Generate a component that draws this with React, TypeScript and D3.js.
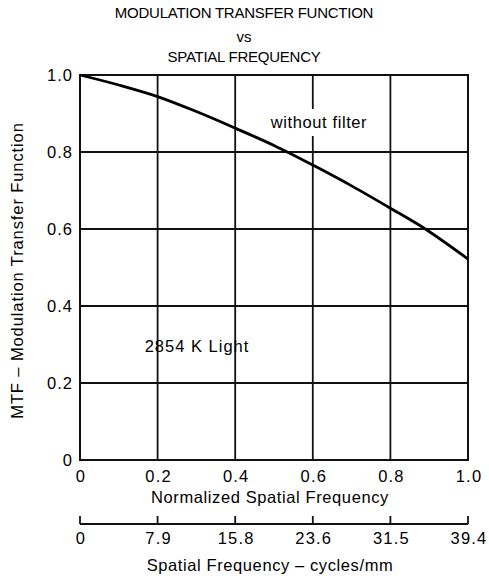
import React from 'react';
import * as d3 from 'd3';

const normTicks = [0, 0.2, 0.4, 0.6, 0.8, 1.0];
const normLabels = ['0', '0.2', '0.4', '0.6', '0.8', '1.0'];
const cycleLabels = ['0', '7.9', '15.8', '23.6', '31.5', '39.4'];
const mtfTicks = [0, 0.2, 0.4, 0.6, 0.8, 1.0];
const mtfLabels = ['0', '0.2', '0.4', '0.6', '0.8', '1.0'];

// curve: normalized frequency vs MTF
const freq = [0, 0.1, 0.2, 0.3, 0.4, 0.5, 0.6, 0.7, 0.8, 0.89, 1.0];
const mtf = [1.0, 0.974, 0.944, 0.905, 0.862, 0.817, 0.766, 0.712, 0.654, 0.6, 0.522];

const FONT = '"Liberation Sans", Arial, Helvetica, sans-serif';

export default function App() {
  const left = 80;
  const right = 468;
  const top = 75;
  const bottom = 460;
  const x = d3.scaleLinear().domain([0, 1]).range([left, right]);
  const y = d3.scaleLinear().domain([0, 1]).range([bottom, top]);

  const line = d3
    .line<number>()
    .x((_, i) => x(freq[i]))
    .y((d) => y(d))
    .curve(d3.curveCatmullRom);

  const axis2Y = 524;
  const titleX = 244;
  const labelX = 270;

  return (
    <svg
      width={489}
      height={579}
      style={{ position: 'absolute', left: 0, top: 0, background: '#fff' }}
      fontFamily={FONT}
    >
      <text x={titleX} y={18} textAnchor="middle" fontSize={15} letterSpacing={-0.25}>
        MODULATION TRANSFER FUNCTION
      </text>
      <text x={titleX} y={42} textAnchor="middle" fontSize={15}>
        vs
      </text>
      <text x={titleX} y={62} textAnchor="middle" fontSize={15} letterSpacing={-0.25}>
        SPATIAL FREQUENCY
      </text>

      {/* grid */}
      {mtfTicks.slice(1, -1).map((t) => (
        <line key={'h' + t} x1={left} x2={right} y1={y(t)} y2={y(t)} stroke="#111" strokeWidth={1.8} />
      ))}
      {normTicks.slice(1, -1).map((t) => (
        <line key={'v' + t} x1={x(t)} x2={x(t)} y1={top} y2={bottom} stroke="#111" strokeWidth={1.8} />
      ))}
      <rect x={left} y={top} width={right - left} height={bottom - top} fill="none" stroke="#111" strokeWidth={2} />

      {/* curve */}
      <path d={line(mtf) ?? ''} fill="none" stroke="#000" strokeWidth={2.8} />

      {/* annotations */}
      <rect x={264} y={109} width={112} height={27} fill="#fff" />
      <text x={319} y={128} textAnchor="middle" fontSize={16.5} letterSpacing={0.6}>
        without filter
      </text>
      <text x={197} y={352} textAnchor="middle" fontSize={16.5} letterSpacing={1}>
        2854 K Light
      </text>

      {/* y ticks */}
      {mtfTicks.map((t, i) => (
        <text key={'yl' + t} x={73} y={y(t) + 6} textAnchor="end" fontSize={16.5} letterSpacing={1}>
          {mtfLabels[i]}
        </text>
      ))}
      <text
        transform={`translate(23, ${(top + bottom) / 2 + 3}) rotate(-90)`}
        textAnchor="middle"
        fontSize={16.5}
        letterSpacing={0.9}
      >
        MTF – Modulation Transfer Function
      </text>

      {/* normalized x labels */}
      {normTicks.map((t, i) => (
        <text key={'xl' + t} x={x(t) + 1} y={482} textAnchor="middle" fontSize={16.5} letterSpacing={1.2}>
          {normLabels[i]}
        </text>
      ))}
      <text x={labelX} y={503} textAnchor="middle" fontSize={16.5} letterSpacing={0.6}>
        Normalized Spatial Frequency
      </text>

      {/* cycles/mm axis */}
      <line x1={x(0)} x2={x(1)} y1={axis2Y} y2={axis2Y} stroke="#111" strokeWidth={1.8} />
      {normTicks.map((t) => (
        <line key={'t2' + t} x1={x(t)} x2={x(t)} y1={axis2Y - 8} y2={axis2Y} stroke="#111" strokeWidth={1.8} />
      ))}
      {normTicks.map((t, i) => (
        <text key={'c' + t} x={x(t) + 1} y={544} textAnchor="middle" fontSize={16.5} letterSpacing={1.2}>
          {cycleLabels[i]}
        </text>
      ))}
      <text x={labelX} y={571} textAnchor="middle" fontSize={16.5} letterSpacing={0.6}>
        Spatial Frequency – cycles/mm
      </text>
    </svg>
  );
}
